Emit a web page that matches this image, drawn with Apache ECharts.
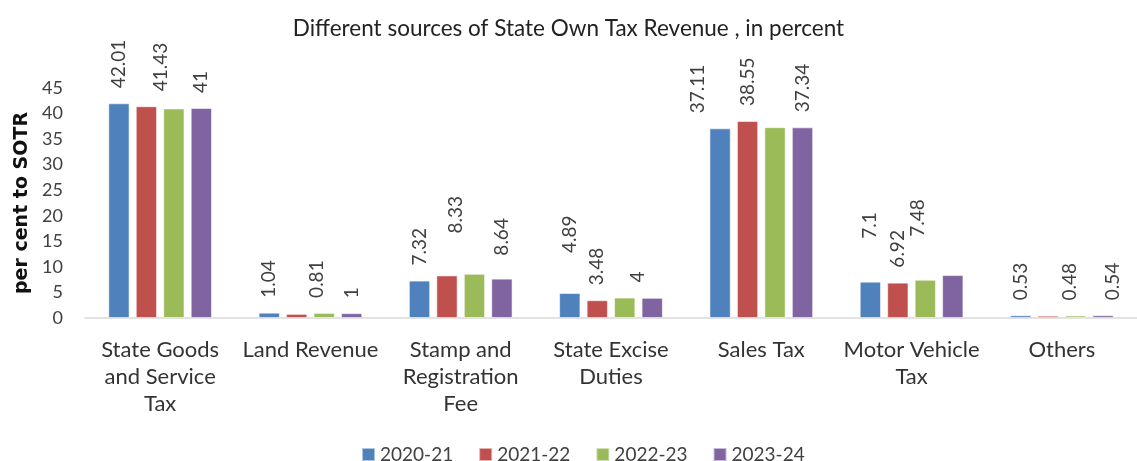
<!DOCTYPE html>
<html>
<head>
<meta charset="utf-8">
<script src="https://cdn.jsdelivr.net/npm/echarts@6/dist/echarts.min.js"></script>
<style>
html,body{margin:0;padding:0;background:#fff;}
#chart{width:1137px;height:461px;}
</style>
</head>
<body>
<div id="chart"></div>
<script>
const categories = ['State Goods\nand Service\nTax', 'Land Revenue', 'Stamp and\nRegistration\nFee', 'State Excise\nDuties', 'Sales Tax', 'Motor Vehicle\nTax', 'Others'];
const seriesNames = ['2020-21', '2021-22', '2022-23', '2023-24'];
const values2020 = [42.01, 1.04, 7.32, 4.89, 37.11, 7.1, 0.53];
const values2021 = [41.43, 0.81, 8.33, 3.48, 38.55, 6.92, 0.45];
const values2022 = [41.0, 1.0, 8.64, 4.0, 37.34, 7.48, 0.48];
const values2023 = [41.1, 0.95, 7.7, 3.95, 37.3, 8.4, 0.54];
// data label texts as shown in the source (some omitted)
const labels2020 = ['42.01', '1.04', '7.32', '4.89', '37.11', '7.1', '0.53'];
const labels2021 = ['41.43', '', '8.33', '3.48', '38.55', '6.92', ''];
const labels2022 = ['', '0.81', '', '4', '', '7.48', '0.48'];
const labels2023 = ['41', '1', '8.64', '', '37.34', '', '0.54'];
const yTicks = [0, 5, 10, 15, 20, 25, 30, 35, 40, 45];

const allValues = [values2020, values2021, values2022, values2023];
const allLabels = [labels2020, labels2021, labels2022, labels2023];
const colors = ['#4F81BD', '#C0504D', '#9BBB59', '#8064A2'];

// label nudges on screen (dx right, dy down), style only, keyed "series-index"
const labelNudge = {
  '1-0': [14, 0], '1-2': [9, -27], '0-3': [0, -25], '2-3': [13, 0],
  '0-4': [-22, 0], '0-5': [0, -28], '2-5': [-7, -28], '2-1': [-7, 0],
  '2-6': [-6, 0], '3-6': [10, 0], '3-2': [0, -8]
};

const FONT = 'Lato';
const series = seriesNames.map((name, s) => ({
  name: name,
  type: 'bar',
  barGap: '29%',
  barCategoryGap: '31%',
  itemStyle: { color: colors[s], borderColor: 'rgba(255,255,255,0.55)', borderWidth: 1 },
  label: {
    show: true,
    position: 'top',
    rotate: 90,
    align: 'left',
    verticalAlign: 'middle',
    distance: 15,
    fontFamily: FONT,
    fontSize: 19,
    color: '#404040',
    formatter: p => allLabels[s][p.dataIndex]
  },
  data: allValues[s].map((v, i) => {
    const n = labelNudge[s + '-' + i];
    // label offset is applied in the rotated (90°) text frame
    return n ? { value: v, label: { offset: [-n[1], n[0]] } } : v;
  })
}));

const chart = echarts.init(document.getElementById('chart'));
chart.setOption({
  animation: false,
  color: colors,
  title: {
    text: 'Different sources of State Own Tax Revenue , in percent',
    left: 'center',
    top: 12,
    textStyle: { fontFamily: FONT, fontSize: 22.5, fontWeight: 'normal', color: '#222' }
  },
  legend: {
    data: seriesNames,
    top: 440,
    left: 356,
    itemWidth: 13,
    itemHeight: 13,
    itemGap: 25,
    icon: 'rect',
    textStyle: { fontFamily: FONT, fontSize: 19, color: '#404040' }
  },
  grid: { left: 85, right: -11, top: 88, bottom: 143, containLabel: false },
  xAxis: {
    type: 'category',
    data: categories,
    axisLine: { lineStyle: { color: '#d9d9d9', width: 1.5 } },
    axisTick: { show: false },
    axisLabel: {
      interval: 0,
      margin: 18,
      fontFamily: FONT,
      fontSize: 22,
      lineHeight: 27,
      color: '#333'
    }
  },
  yAxis: {
    type: 'value',
    min: yTicks[0],
    max: yTicks[yTicks.length - 1],
    interval: 5,
    name: 'per cent to SOTR',
    nameLocation: 'middle',
    nameGap: 53,
    nameTextStyle: { fontFamily: 'DejaVu Sans', fontSize: 19, fontWeight: 'bold', color: '#111' },
    axisLine: { show: false },
    axisTick: { show: false },
    splitLine: { show: false },
    axisLabel: { margin: 22, fontFamily: FONT, fontSize: 18, color: '#404040' }
  },
  series: series
});
</script>
</body>
</html>
